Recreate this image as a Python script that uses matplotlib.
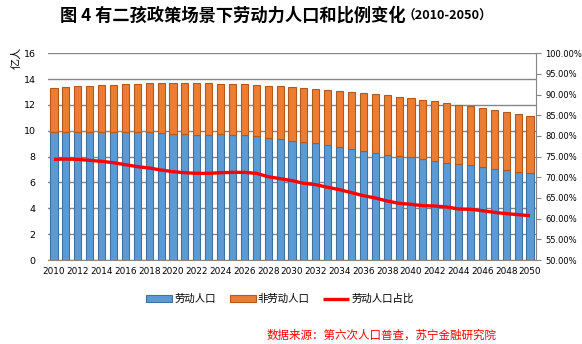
import matplotlib
matplotlib.use("Agg")
import matplotlib.pyplot as plt
import numpy as np

plt.rcParams['font.family'] = ['Noto Sans CJK SC', 'DejaVu Sans']

years = list(range(2010, 2051))
labor = [9.88, 9.93, 9.93, 9.93, 9.93, 9.93, 9.93, 9.88, 9.88, 9.80,
         9.78, 9.72, 9.70, 9.65, 9.72, 9.65, 9.64, 9.57, 9.42, 9.34,
         9.25, 9.10, 9.02, 8.87, 8.71, 8.56, 8.40, 8.31, 8.15, 8.02,
         7.95, 7.79, 7.69, 7.53, 7.45, 7.37, 7.22, 7.07, 6.99, 6.83, 6.76]
non_labor = [3.41, 3.44, 3.51, 3.51, 3.59, 3.59, 3.67, 3.72, 3.80, 3.88,
             3.90, 3.96, 3.98, 4.03, 3.88, 3.95, 3.96, 3.95, 4.02, 4.10,
             4.12, 4.19, 4.19, 4.26, 4.35, 4.42, 4.50, 4.51, 4.60, 4.57,
             4.56, 4.57, 4.59, 4.60, 4.52, 4.53, 4.52, 4.52, 4.44, 4.45, 4.36]
ratio = [74.35, 74.43, 74.35, 74.11, 73.87, 73.54, 73.06, 72.58, 72.25, 71.77,
         71.37, 71.12, 70.96, 70.96, 71.12, 71.20, 71.20, 70.96, 70.16, 69.67,
         69.19, 68.55, 68.22, 67.58, 67.01, 66.29, 65.56, 65.00, 64.27, 63.71,
         63.47, 63.14, 63.06, 62.82, 62.34, 62.26, 61.93, 61.53, 61.21, 60.97, 60.72]

left_ticks = [0, 2, 4, 6, 8, 10, 12, 14, 16]
right_ticks = [50, 55, 60, 65, 70, 75, 80, 85, 90, 95, 100]
xtick_years = list(range(2010, 2051, 2))

fig = plt.figure(figsize=(5.82, 3.44), dpi=100)
ax = fig.add_axes([48/582, 1-260/344, (536-48)/582, (260-53.3)/344])

x = np.arange(len(years))
ax.bar(x, labor, width=0.6, color='#5B9BD5', edgecolor='#41719C', linewidth=0.8,
       label='劳动人口', zorder=3)
ax.bar(x, non_labor, bottom=labor, width=0.6, color='#ED7D31', edgecolor='#AE5A21',
       linewidth=0.8, label='非劳动人口', zorder=3)

ax.set_xlim(-0.5, len(years) - 0.5)
ax.set_ylim(0, 16)
ax.set_yticks(left_ticks)
ax.set_yticklabels([str(t) for t in left_ticks], fontsize=6.8, family='DejaVu Sans')
ax.set_xticks([years.index(y) for y in xtick_years])
ax.set_xticklabels([str(y) for y in xtick_years], fontsize=6.4, family='DejaVu Sans')
ax.tick_params(axis='y', length=0, pad=9)
ax.tick_params(axis='x', length=0, pad=5)
ax.grid(axis='y', color='#868686', linewidth=1.0, zorder=0)
for s in ['left', 'top', 'right']:
    ax.spines[s].set_visible(False)
ax.spines['bottom'].set_color('#868686')
ax.set_ylabel('亿人', fontsize=8, labelpad=4)
ax.yaxis.set_label_coords(-0.055, 0.98)

ax2 = ax.twinx()
ax2.plot(x, ratio, color='#FF0000', linewidth=2.4, label='劳动人口占比', zorder=5,
         solid_capstyle='butt')
ax2.set_ylim(50, 100)
ax2.set_yticks(right_ticks)
ax2.set_yticklabels([f'{t:.2f}%' for t in right_ticks], fontsize=6.0, family='DejaVu Sans')
ax2.tick_params(axis='y', length=3.5, color='#868686', pad=3)
for s in ['left', 'top', 'bottom']:
    ax2.spines[s].set_visible(False)
ax2.spines['right'].set_color('#868686')

fig.text(60/582, 1-16/344, '图 4 有二孩政策场景下劳动力人口和比例变化', fontsize=12.4,
         fontweight='bold', ha='left', va='center')
fig.text(403/582, 1-16/344, '（2010-2050）', fontsize=9.2, fontweight='bold',
         ha='left', va='center')

h1, l1 = ax.get_legend_handles_labels()
h2, l2 = ax2.get_legend_handles_labels()
fig.legend(h1 + h2, l1 + l2, loc='center', bbox_to_anchor=(280/582, 1-299/344), ncol=3,
           frameon=False, fontsize=7.5, handlelength=2.5, handleheight=0.6,
           columnspacing=1.3, handletextpad=0.2)

fig.text(497/582, 1-335/344, '数据来源：第六次人口普查，苏宁金融研究院', color='#FF0000',
         fontsize=8.3, ha='right', va='center', style='italic')

fig.savefig('out.png', dpi=100)
